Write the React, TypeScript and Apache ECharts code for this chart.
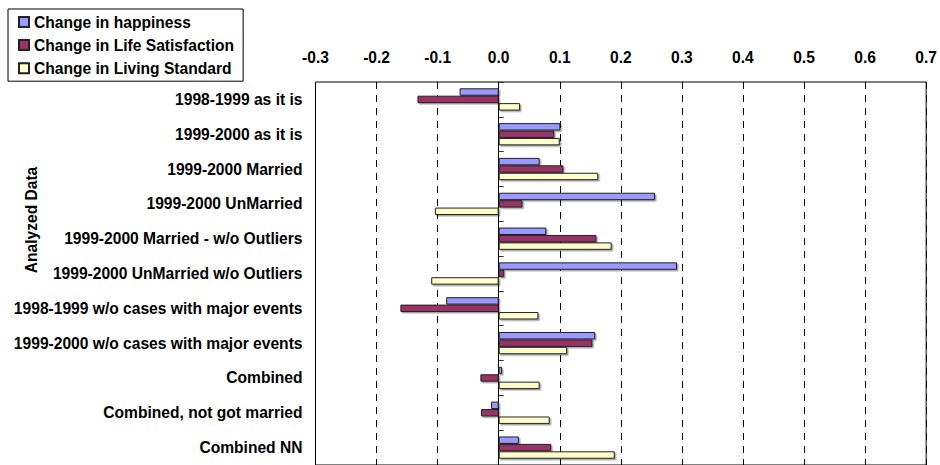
import React, { useEffect, useRef } from "react";
import * as echarts from "echarts";

const categories = [
  "1998-1999 as it is",
  "1999-2000 as it is",
  "1999-2000 Married",
  "1999-2000 UnMarried",
  "1999-2000 Married - w/o Outliers",
  "1999-2000 UnMarried w/o Outliers",
  "1998-1999 w/o cases with major events",
  "1999-2000 w/o cases with major events",
  "Combined",
  "Combined, not got married",
  "Combined NN",
];

const seriesNames = [
  "Change in happiness",
  "Change in Life Satisfaction",
  "Change in Living Standard",
];

const happiness = [-0.064, 0.101, 0.067, 0.256, 0.078, 0.292, -0.086, 0.158, 0.0055, -0.0125, 0.033];
const lifeSatisfaction = [-0.133, 0.091, 0.106, 0.039, 0.16, 0.009, -0.161, 0.1535, -0.03, -0.029, 0.086];
const livingStandard = [0.035, 0.1, 0.163, -0.1045, 0.185, -0.1105, 0.065, 0.112, 0.067, 0.0835, 0.19];

const xTicks = [-0.3, 0.7, 0.1]; // min, max, interval

const colors = ["#9999FF", "#993366", "#FFFFCC"];

const FONT = "'Liberation Sans', Arial, sans-serif";
const FS = 15.6;

export default function App() {
  const ref = useRef<HTMLDivElement>(null);

  useEffect(() => {
    document.body.style.margin = "0";
    const chart = echarts.init(ref.current!, null, { renderer: "svg" });
    const values = [happiness, lifeSatisfaction, livingStandard];
    const textBase = { fontFamily: FONT, fontWeight: "bold" as const, fontSize: FS, color: "#000" };

    chart.setOption({
      animation: false,
      backgroundColor: "#fff",
      grid: {
        left: 315.5,
        right: 9,
        top: 82,
        height: 384,
        show: true,
        borderColor: "#000",
        borderWidth: 1,
        backgroundColor: "transparent",
        containLabel: false,
      },
      legend: {
        orient: "vertical",
        left: 8,
        top: 9,
        data: seriesNames,
        borderColor: "#000",
        borderWidth: 1,
        padding: [5, 9, 5, 10],
        itemWidth: 10,
        itemHeight: 10,
        itemGap: 7.1,
        textStyle: { ...textBase },
        icon: "rect",
        itemStyle: {
          shadowColor: "rgba(0,0,0,0)",
          shadowBlur: 0,
          shadowOffsetX: 0,
          shadowOffsetY: 0,
        },
      },
      xAxis: {
        type: "value",
        position: "top",
        min: xTicks[0],
        max: xTicks[1],
        interval: xTicks[2],
        axisLine: { show: false },
        axisTick: { show: false },
        axisLabel: {
          ...textBase,
          margin: 17,
          formatter: (v: number) => (Math.abs(v) < 1e-9 ? "0.0" : v.toFixed(1)),
        },
        splitLine: {
          show: true,
          lineStyle: { color: "#000", width: 1, type: [7, 6] },
        },
      },
      yAxis: [
        {
          type: "category",
          inverse: true,
          position: "left",
          data: categories,
          axisLine: { show: false, onZero: false },
          axisTick: { show: false },
          axisLabel: { ...textBase, margin: 13 },
          splitLine: { show: false },
        },
        {
          type: "category",
          inverse: true,
          position: "left",
          data: categories,
          axisLine: { show: true, onZero: true, lineStyle: { color: "#000", width: 1 } },
          axisTick: { show: true, inside: true, length: 5, lineStyle: { color: "#333" } },
          axisLabel: { show: false },
          splitLine: { show: false },
        },
      ],
      graphic: [
        {
          type: "text",
          x: 31,
          y: 220,
          rotation: Math.PI / 2,
          style: {
            text: "Analyzed Data",
            font: `bold ${FS}px ${FONT}`,
            fill: "#000",
            align: "center",
            verticalAlign: "middle",
          },
        },
      ],
      series: seriesNames.map((name, i) => ({
        name,
        type: "bar",
        yAxisIndex: 0,
        data: values[i],
        barGap: "0%",
        barCategoryGap: "36%",
        itemStyle: {
          color: colors[i],
          borderColor: "#222",
          borderWidth: 1,
          shadowColor: "rgba(0,0,0,0.35)",
          shadowOffsetX: 1.5,
          shadowOffsetY: 1.5,
          shadowBlur: 0.5,
        },
      })),
    });

    return () => chart.dispose();
  }, []);

  return <div ref={ref} style={{ position: "absolute", left: 0, top: 0, width: 940, height: 465 }} />;
}
